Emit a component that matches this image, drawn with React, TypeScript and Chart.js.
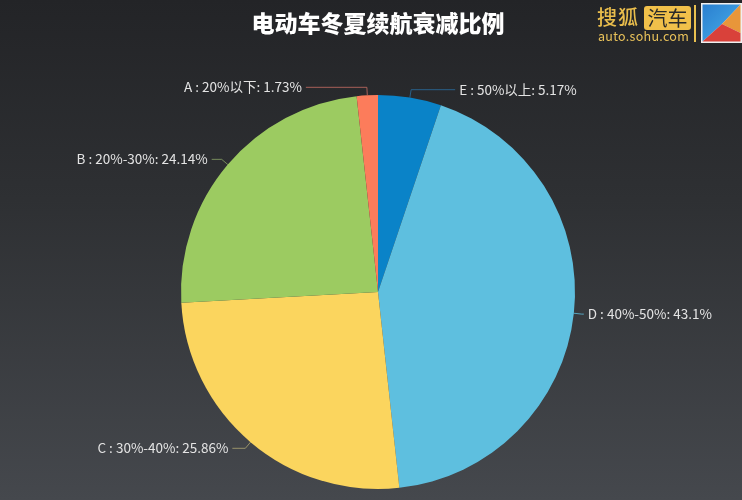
import React, { useEffect, useRef } from "react";
import { Chart, registerables } from "chart.js";

Chart.register(...registerables);

const categories = ["E : 50%以上", "D : 40%-50%", "C : 30%-40%", "B : 20%-30%", "A : 20%以下"];
const percents = [5.17, 43.1, 25.86, 24.14, 1.73];
const sliceColors = ["#0a83c8", "#5ebfdf", "#fbd55e", "#9ccb61", "#fc7c5b"];
const lineColors = ["rgba(40,110,160,0.8)", "rgba(94,191,223,0.8)", "rgba(190,180,120,0.7)", "rgba(150,180,110,0.7)", "rgba(200,110,100,0.8)"];
const titleText = "电动车冬夏续航衰减比例";

const labelPlugin = {
  id: "pieLabels",
  afterDatasetsDraw(chart: any, _args: any, opts: any) {
    const ctx = chart.ctx;
    const meta = chart.getDatasetMeta(0);
    const data = chart.data.datasets[0].data;
    const labels = chart.data.labels;
    meta.data.forEach((arc: any, i: number) => {
      const p = arc.getProps(["x", "y", "startAngle", "endAngle", "outerRadius"], true);
      const mid = (p.startAngle + p.endAngle) / 2;
      const R = p.outerRadius;
      const c = Math.cos(mid), s = Math.sin(mid);
      const ex = p.x + c * R, ey = p.y + s * R;
      const bx = p.x + c * (R + opts.len1), by = p.y + s * (R + opts.len1);
      const dir = c >= 0 ? 1 : -1;
      const tx = bx + dir * opts.len2[i];
      ctx.save();
      ctx.strokeStyle = lineColors[i];
      ctx.lineWidth = 1;
      ctx.beginPath();
      ctx.moveTo(ex, ey);
      ctx.lineTo(bx, by);
      ctx.lineTo(tx, by);
      ctx.stroke();
      ctx.fillStyle = "#e4e4e4";
      ctx.font = "13.5px 'Noto Sans CJK SC', 'Noto Sans', sans-serif";
      ctx.textBaseline = "middle";
      ctx.textAlign = dir > 0 ? "left" : "right";
      ctx.fillText(`${labels[i]}: ${data[i]}%`, tx + dir * 4, by);
      ctx.restore();
    });
  },
};

export default function App() {
  const ref = useRef<HTMLCanvasElement>(null);
  useEffect(() => {
    document.body.style.margin = "0";
    const chart = new Chart(ref.current!, {
      type: "pie",
      data: {
        labels: categories,
        datasets: [
          {
            data: percents,
            backgroundColor: sliceColors,
            borderWidth: 0,
            hoverOffset: 0,
          },
        ],
      },
      options: {
        responsive: false,
        animation: false,
        layout: { padding: { top: 95, bottom: 11, left: 14, right: 0 } },
        plugins: {
          legend: { display: false },
          title: { display: false },
          tooltip: { enabled: false },
          pieLabels: { len1: 8, len2: [44, 2, 13, 10, 61] },
        } as any,
      },
      plugins: [labelPlugin],
    });
    return () => chart.destroy();
  }, []);

  return (
    <div
      style={{
        position: "relative",
        width: 742,
        height: 500,
        overflow: "hidden",
        background: "linear-gradient(180deg, #232427 0%, #2e3033 40%, #45484d 100%)",
        fontFamily: "'Noto Sans CJK SC', 'Noto Sans', sans-serif",
      }}
    >
      <canvas ref={ref} width={742} height={500} style={{ position: "absolute", left: 0, top: 0 }} />
      <div
        style={{
          position: "absolute",
          left: 0,
          width: 756,
          top: 5,
          textAlign: "center",
          color: "#ffffff",
          fontWeight: 900,
          fontSize: 23,
          lineHeight: "34px",
        }}
      >
        {titleText}
      </div>
      <div style={{ position: "absolute", left: 597, top: 4, color: "#e9bd4c", fontSize: 20, lineHeight: "26px", letterSpacing: 1, fontWeight: 500 }}>
        搜狐
      </div>
      <div
        style={{
          position: "absolute",
          left: 644,
          top: 6,
          width: 47,
          height: 24,
          background: "#f1c04a",
          borderRadius: 3,
          color: "#2a2a2a",
          fontSize: 20,
          lineHeight: "24px",
          textAlign: "center",
        }}
      >
        汽车
      </div>
      <div style={{ position: "absolute", left: 598, top: 29, color: "#e9c25a", fontSize: 12.5, lineHeight: "14px", letterSpacing: 0.3 }}>
        auto.sohu.com
      </div>
      <div style={{ position: "absolute", left: 694, top: 5, width: 2, height: 37, background: "#e9c04f" }} />
      <svg style={{ position: "absolute", left: 701, top: 3 }} width={41} height={40} viewBox="0 0 41 40">
        <defs>
          <linearGradient id="blueG" x1="0" y1="0" x2="1" y2="1">
            <stop offset="0" stopColor="#2a7fd0" />
            <stop offset="1" stopColor="#48b0ea" />
          </linearGradient>
        </defs>
        <rect x={0} y={0} width={41} height={40} fill="#f0f0f0" />
        <polygon points="1.5,1.5 39.5,1.5 21,21 1.5,38.5" fill="url(#blueG)" />
        <polygon points="39.5,1.5 39.5,30 21,21" fill="#e8963a" />
        <polygon points="1.5,38.5 21,21 39.5,30 39.5,38.5" fill="#d9413a" />
      </svg>
    </div>
  );
}
